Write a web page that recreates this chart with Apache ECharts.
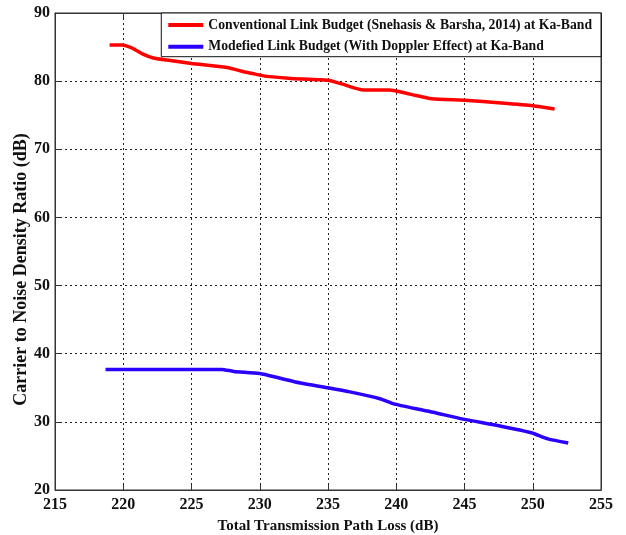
<!DOCTYPE html>
<html><head><meta charset="utf-8">
<script src="https://cdn.jsdelivr.net/npm/echarts@6/dist/echarts.min.js"></script>
<style>html,body{margin:0;padding:0;background:#fff}#c{width:626px;height:535px}</style>
</head><body><div id="c"></div>
<script>
const conventionalX = [219, 219.9, 220.7, 221.4, 222.2, 223.2, 225, 227.6, 229, 230, 230.5, 232.3, 234.5, 235.1, 236, 237.6, 239.5, 241, 242.6, 245, 247.7, 250, 251.6];
const conventionalY = [85.3, 85.3, 84.8, 84.0, 83.4, 83.1, 82.6, 82.0, 81.3, 80.9, 80.7, 80.4, 80.2, 80.1, 79.6, 78.7, 78.7, 78.1, 77.4, 77.2, 76.8, 76.4, 75.9];
const dopplerX = [218.7, 227.2, 228.1, 230, 231.5, 233, 235, 236.6, 238.8, 239.9, 242.7, 244.9, 247.6, 249.9, 251.1, 252.6];
const dopplerY = [37.7, 37.7, 37.4, 37.1, 36.4, 35.7, 35.0, 34.4, 33.4, 32.6, 31.4, 30.4, 29.4, 28.4, 27.5, 26.9];
const seriesNames = ['Conventional Link Budget (Snehasis & Barsha, 2014) at Ka-Band', 'Modefied Link Budget (With Doppler Effect) at Ka-Band'];
const xLabel = 'Total Transmission Path Loss (dB)';
const yLabel = 'Carrier to Noise Density Ratio (dB)';

const FONT = 'Liberation Serif';
const zip = (a, b) => a.map((v, i) => [v, b[i]]);
const chart = echarts.init(document.getElementById('c'), null, {renderer: 'canvas'});
const gridLine = {show: true, lineStyle: {color: '#222', type: [2, 3], width: 1}};
chart.setOption({
  animation: false,
  grid: {left: 55, right: 25, top: 13, bottom: 45, show: true, borderColor: '#333', borderWidth: 1,
         containLabel: false, outerBoundsMode: 'none'},
  legend: {
    orient: 'vertical', right: 25, top: 13, padding: [5, 9, 3, 7], itemGap: 7.7,
    borderColor: '#111', borderWidth: 1, backgroundColor: '#fff', borderRadius: 0,
    itemWidth: 35, itemHeight: 4, icon: 'rect',
    textStyle: {fontFamily: FONT, fontWeight: 'bold', fontSize: 13.7, lineHeight: 14, color: '#111'},
    data: seriesNames
  },
  xAxis: [{
    type: 'value', min: 215, max: 255, interval: 5,
    name: xLabel, nameLocation: 'middle', nameGap: 29, nameMoveOverlap: false,
    nameTextStyle: {fontFamily: FONT, fontWeight: 'bold', fontSize: 15, color: '#111'},
    axisLine: {show: true, lineStyle: {color: '#333'}},
    axisTick: {show: true, inside: true, length: 5, lineStyle: {color: '#333'}},
    axisLabel: {fontFamily: FONT, fontWeight: 'bold', fontSize: 16, color: '#111', margin: 7},
    splitLine: gridLine
  }, {
    type: 'value', position: 'top', min: 215, max: 255, interval: 5,
    axisLine: {show: true, lineStyle: {color: '#333'}},
    axisTick: {show: true, inside: true, length: 5, lineStyle: {color: '#333'}},
    axisLabel: {show: false}, splitLine: {show: false}
  }],
  yAxis: [{
    type: 'value', min: 20, max: 90, interval: 10,
    name: yLabel, nameLocation: 'middle', nameGap: 25, nameMoveOverlap: false,
    nameTextStyle: {fontFamily: FONT, fontWeight: 'bold', fontSize: 18, color: '#111', padding: [0, 36, 0, 0]},
    axisLine: {show: true, lineStyle: {color: '#333'}},
    axisTick: {show: true, inside: true, length: 5, lineStyle: {color: '#333'}},
    axisLabel: {fontFamily: FONT, fontWeight: 'bold', fontSize: 16, color: '#111', margin: 5},
    splitLine: gridLine
  }, {
    type: 'value', position: 'right', min: 20, max: 90, interval: 10,
    axisLine: {show: true, lineStyle: {color: '#333'}},
    axisTick: {show: true, inside: true, length: 5, lineStyle: {color: '#333'}},
    axisLabel: {show: false}, splitLine: {show: false}
  }],
  series: [{
    name: seriesNames[0], type: 'line', data: zip(conventionalX, conventionalY),
    showSymbol: false, smooth: 0.2, color: '#ff0000', lineStyle: {width: 3.5, color: '#ff0000'}
  }, {
    name: seriesNames[1], type: 'line', data: zip(dopplerX, dopplerY),
    showSymbol: false, smooth: 0.2, color: '#2b00ff', lineStyle: {width: 3.5, color: '#2b00ff'}
  }]
});
</script></body></html>
